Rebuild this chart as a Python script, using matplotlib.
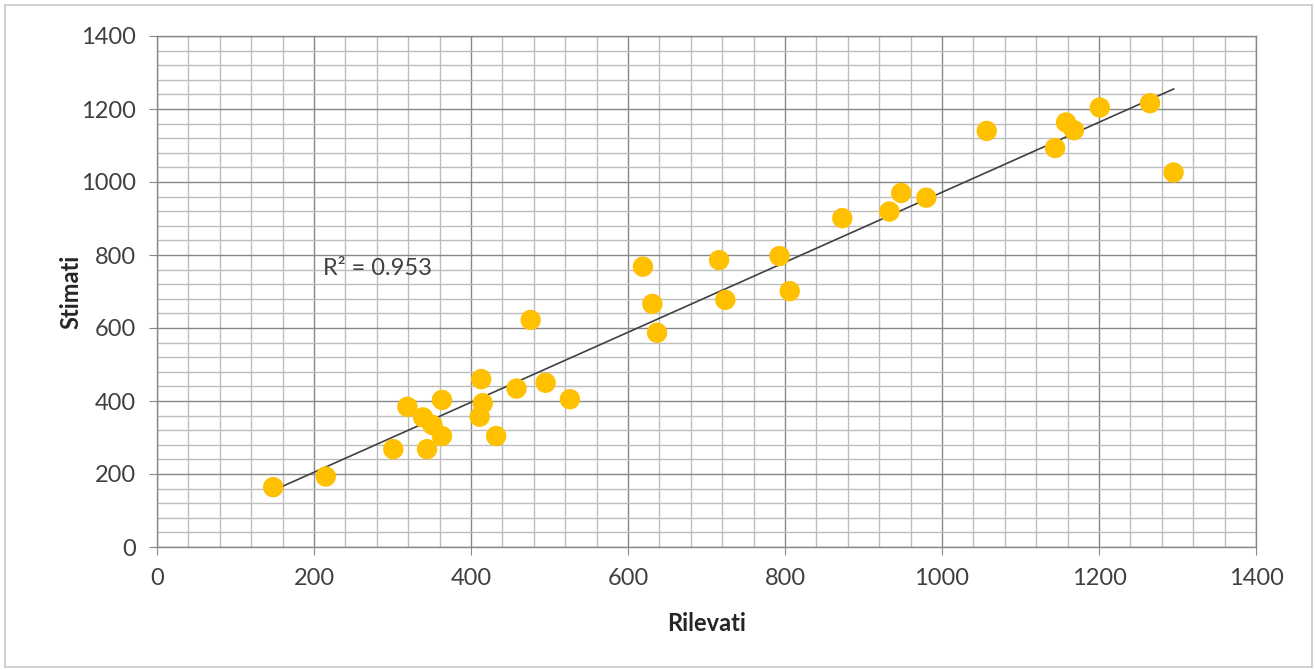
import numpy as np
import matplotlib
matplotlib.use("Agg")
import matplotlib.pyplot as plt
from matplotlib.ticker import MultipleLocator
from matplotlib.patches import Rectangle

plt.rcParams['font.family'] = ['Lato', 'DejaVu Sans']

# Observed (Rilevati) vs estimated (Stimati) values
rilevati = [148, 215, 301, 344, 319, 363, 339, 351, 363, 413, 415, 411,
            432, 458, 495, 526, 476, 619, 631, 637, 716, 724, 793, 806,
            873, 933, 948, 980, 1057, 1144, 1158, 1168, 1201, 1265, 1295]
stimati = [164, 193, 268, 268, 384, 403, 355, 334, 304, 460, 394, 357,
           304, 434, 450, 405, 622, 768, 666, 587, 786, 677, 797, 701,
           901, 919, 970, 957, 1140, 1093, 1163, 1142, 1204, 1216, 1026]
r2_label = "R\u00b2 = 0.953"

x = np.array(rilevati, dtype=float)
y = np.array(stimati, dtype=float)

fig = plt.figure(figsize=(13.15, 6.70), dpi=100)
ax = fig.add_axes([157 / 1315, 1 - 547 / 670, (1256 - 157) / 1315, (547 - 36) / 670])

ax.set_xlim(0, 1400)
ax.set_ylim(0, 1400)
ax.xaxis.set_major_locator(MultipleLocator(200))
ax.yaxis.set_major_locator(MultipleLocator(200))
ax.xaxis.set_minor_locator(MultipleLocator(40))
ax.yaxis.set_minor_locator(MultipleLocator(40))

ax.grid(which='minor', color='#bdbdbd', linewidth=1.0)
ax.grid(which='major', color='#888888', linewidth=1.0)
ax.set_axisbelow(True)

for s in ax.spines.values():
    s.set_color('#888888')
    s.set_linewidth(1.0)

ax.tick_params(which='major', direction='out', length=6, color='#888888',
               labelsize=17, labelcolor='#404040', pad=9)
ax.tick_params(which='minor', length=0)

# Linear trend line
slope, intercept = np.polyfit(x, y, 1)
xl = np.array([x.min(), x.max()])
ax.plot(xl, slope * xl + intercept, color='#404040', linewidth=1.2, zorder=2)

ax.scatter(x, y, s=215, color='#FFC000', edgecolors='none', zorder=3)

ax.text(211, 764, r2_label, fontsize=17, color='#404040', va='center', ha='left')

ax.set_xlabel("Rilevati", fontsize=17, fontweight='bold', color='#262626', labelpad=17)
ax.set_ylabel("Stimati", fontsize=17, fontweight='bold', color='#262626', labelpad=-1)

# Chart area border
fig.patches.append(Rectangle((5 / 1315, 3 / 670), 1307 / 1315, 662 / 670,
                             transform=fig.transFigure, fill=False,
                             edgecolor='#c8c8c8', linewidth=1.2))

fig.savefig("out.png", dpi=100, facecolor='white')
